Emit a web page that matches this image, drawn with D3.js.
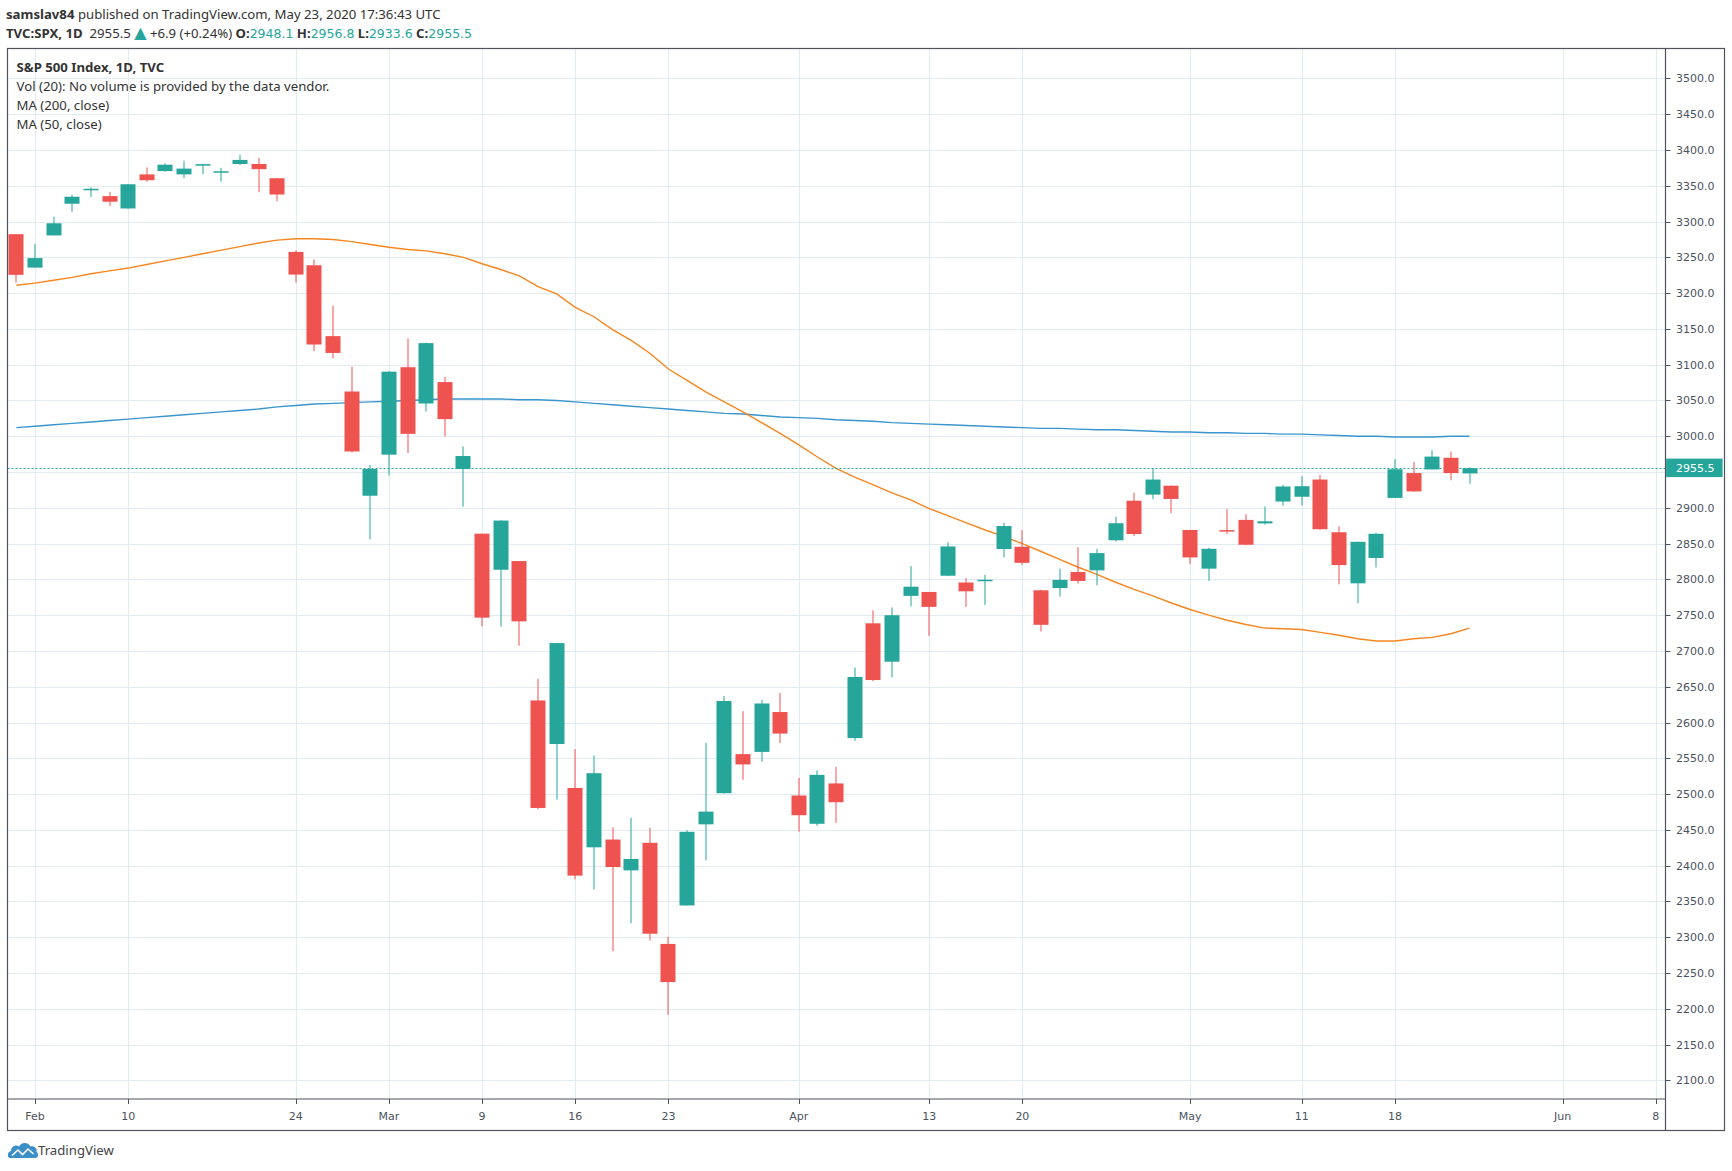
<!DOCTYPE html>
<html><head><meta charset="utf-8">
<script src="https://cdn.jsdelivr.net/npm/d3@7"></script>
<style>body{margin:0;background:#fff;} svg{display:block}</style>
</head><body><svg id="chart" width="1732" height="1171"></svg>
<script>
// ---------- DATA ----------
const dates = ["2020-01-31",
"2020-02-03","2020-02-04","2020-02-05","2020-02-06","2020-02-07",
"2020-02-10","2020-02-11","2020-02-12","2020-02-13","2020-02-14",
"2020-02-18","2020-02-19","2020-02-20","2020-02-21",
"2020-02-24","2020-02-25","2020-02-26","2020-02-27","2020-02-28",
"2020-03-02","2020-03-03","2020-03-04","2020-03-05","2020-03-06",
"2020-03-09","2020-03-10","2020-03-11","2020-03-12","2020-03-13",
"2020-03-16","2020-03-17","2020-03-18","2020-03-19","2020-03-20",
"2020-03-23","2020-03-24","2020-03-25","2020-03-26","2020-03-27",
"2020-03-30","2020-03-31","2020-04-01","2020-04-02","2020-04-03",
"2020-04-06","2020-04-07","2020-04-08","2020-04-09",
"2020-04-13","2020-04-14","2020-04-15","2020-04-16","2020-04-17",
"2020-04-20","2020-04-21","2020-04-22","2020-04-23","2020-04-24",
"2020-04-27","2020-04-28","2020-04-29","2020-04-30","2020-05-01",
"2020-05-04","2020-05-05","2020-05-06","2020-05-07","2020-05-08",
"2020-05-11","2020-05-12","2020-05-13","2020-05-14","2020-05-15",
"2020-05-18","2020-05-19","2020-05-20","2020-05-21","2020-05-22"];

const opens = [3282.33,
3235.66,3280.61,3324.91,3344.92,3335.54,
3318.28,3365.87,3370.50,3365.90,3378.08,
3369.04,3380.39,3380.45,3360.50,
3257.61,3238.94,3139.90,3062.54,2916.90,
2974.28,3096.46,3045.75,3075.70,2954.20,
2863.89,2813.48,2825.60,2630.86,2569.99,
2508.59,2425.66,2436.50,2393.48,2431.94,
2290.71,2344.44,2457.77,2501.29,2555.87,
2558.98,2614.69,2498.08,2458.54,2514.92,
2578.28,2738.65,2685.00,2776.99,
2782.46,2805.10,2795.64,2799.34,2842.43,
2845.62,2784.81,2787.89,2810.42,2812.64,
2854.65,2909.96,2918.46,2930.91,2869.09,
2815.01,2868.88,2883.14,2878.26,2908.83,
2915.46,2939.50,2865.86,2794.54,2829.95,
2913.86,2948.59,2953.63,2969.95,2948.05];

const highs = [3282.33,
3268.44,3306.92,3337.58,3347.96,3341.42,
3352.26,3375.63,3381.47,3385.09,3380.69,
3375.01,3393.52,3389.15,3360.76,
3259.81,3246.99,3182.51,3097.07,2959.72,
3090.96,3136.72,3130.97,3083.04,2985.93,
2863.89,2882.59,2825.60,2660.95,2711.33,
2562.98,2553.93,2453.57,2466.97,2453.01,
2300.73,2449.71,2571.42,2637.01,2615.91,
2631.80,2641.39,2522.75,2533.22,2538.18,
2676.85,2756.89,2760.75,2818.57,
2782.46,2851.85,2801.88,2806.51,2879.22,
2868.98,2785.54,2815.10,2844.90,2842.71,
2887.72,2921.15,2954.86,2930.91,2869.09,
2844.24,2898.23,2891.11,2901.92,2932.16,
2944.25,2945.82,2874.14,2852.80,2865.01,
2968.09,2964.21,2980.29,2978.50,2956.76];

const lows = [3214.68,
3235.66,3280.61,3313.75,3334.39,3322.12,
3317.77,3355.61,3369.72,3360.52,3366.15,
3355.61,3378.83,3341.02,3328.45,
3214.65,3118.77,3108.99,2977.39,2855.84,
2945.19,2976.63,3034.38,2999.83,2901.54,
2734.43,2734.00,2707.22,2478.86,2492.37,
2380.94,2367.04,2280.52,2319.78,2295.56,
2191.86,2344.44,2407.53,2500.72,2520.02,
2545.28,2571.15,2447.49,2455.79,2459.96,
2574.57,2657.67,2663.30,2762.36,
2721.17,2805.10,2761.54,2764.32,2830.88,
2820.43,2727.10,2775.95,2794.26,2791.76,
2852.89,2860.71,2912.16,2892.47,2821.61,
2797.85,2863.55,2847.65,2876.48,2902.88,
2903.44,2869.59,2793.15,2766.64,2816.78,
2913.86,2922.35,2953.63,2938.57,2933.59];

const closes = [3225.52,
3248.92,3297.59,3334.69,3345.78,3327.71,
3352.09,3357.75,3379.45,3373.94,3380.16,
3370.29,3386.15,3373.23,3337.75,
3225.89,3128.21,3116.39,2978.76,2954.22,
3090.23,3003.37,3130.12,3023.94,2972.37,
2746.56,2882.23,2741.38,2480.64,2711.02,
2386.13,2529.19,2398.10,2409.39,2304.92,
2237.40,2447.33,2475.56,2630.07,2541.47,
2626.65,2584.59,2470.50,2526.90,2488.65,
2663.68,2659.41,2749.98,2789.82,
2761.63,2846.06,2783.36,2799.55,2874.56,
2823.16,2736.56,2799.31,2797.80,2836.74,
2878.48,2863.39,2939.51,2912.43,2830.71,
2842.74,2868.44,2848.42,2881.19,2929.80,
2930.19,2870.12,2820.00,2852.50,2863.70,
2953.91,2922.94,2971.61,2948.51,2955.45];

const ma50 = [3211,
3214,3218,3222,3227,3231,
3235,3240,3245,3250,3255,
3260,3265,3270,3274,
3276,3276,3275,3272,3268,
3264,3261,3259,3255,3250,
3241,3233,3224,3209,3199,
3180,3167,3149,3134,3116,
3094,3078,3062,3048,3034,
3019,3004,2988,2971,2955,
2943,2932,2921,2911,
2899,2889,2879,2869,2860,
2850,2839,2828,2817,2807,
2796,2786,2777,2767,2758,
2750,2743,2737,2732,2731,
2730,2726,2722,2717,2714,
2714,2717,2719,2724,2732];

const ma200 = [3012,
3014,3016,3018,3020,3022,
3024,3026,3028,3030,3032,
3034,3036,3038,3041,
3043,3045,3046,3047,3048,
3049,3050,3051,3052,3052,
3052,3052,3051,3051,3050,
3048,3046,3044,3042,3040,
3038,3036,3034,3032,3031,
3029,3027,3026,3025,3023,
3022,3021,3019,3018,
3017,3016,3015,3014,3013,
3012,3011,3011,3010,3009,
3009,3008,3007,3006,3006,
3005,3005,3004,3004,3003,
3003,3002,3001,3000,3000,
2999,2999,2999,3000,3000];

const futureDates = ["2020-05-26","2020-05-27","2020-05-28","2020-05-29",
"2020-06-01","2020-06-02","2020-06-03","2020-06-04","2020-06-05","2020-06-08"];

const tickDates = ["2020-02-03","2020-02-10","2020-02-24","2020-03-02","2020-03-09",
"2020-03-16","2020-03-23","2020-04-01","2020-04-13","2020-04-20",
"2020-05-01","2020-05-11","2020-05-18","2020-06-01","2020-06-08"];
const tickLabels = ["Feb","10","24","Mar","9","16","23","Apr","13","20","May","11","18","Jun","8"];

const priceTicks = d3.range(2100, 3501, 50);
const lastPrice = 2955.5;

// ---------- LAYOUT ----------
const L = 7.5, T = 48.5, R = 1665.5, B = 1099, BR = 1724.5, BB = 1130.5;
const allDates = dates.concat(futureDates);
const idx = d => allDates.indexOf(d);

const x = d3.scaleLinear().domain([idx("2020-02-03"), idx("2020-06-08")]).range([35, 1655.8]);
const y = d3.scaleLinear().domain([2100, 3500]).range([1080.4, 78.4]);

const UP = "#26a69a", DOWN = "#ef5350", GRID = "#e1ecf2", AXIS = "#50535e", TXT = "#4c525e";
const fmt1 = v => (Math.round(v*10 + 1e-6)/10).toFixed(1);

const svg = d3.select("#chart");
svg.append("rect").attr("width",1732).attr("height",1171).attr("fill","#fff");

svg.append("defs").append("clipPath").attr("id","plotclip")
  .append("rect").attr("x",L).attr("y",T).attr("width",R-L).attr("height",B-T);

// grid
const grid = svg.append("g");
grid.selectAll(".hg").data(priceTicks).join("line")
  .attr("x1",L).attr("x2",R).attr("y1",d=>Math.round(y(d))+0.5).attr("y2",d=>Math.round(y(d))+0.5)
  .attr("stroke",GRID).attr("stroke-width",1);
grid.selectAll(".vg").data(tickDates).join("line")
  .attr("x1",d=>Math.round(x(idx(d)))+0.5).attr("x2",d=>Math.round(x(idx(d)))+0.5)
  .attr("y1",T).attr("y2",B)
  .attr("stroke",GRID).attr("stroke-width",1);

const plot = svg.append("g").attr("clip-path","url(#plotclip)");

// MA lines
const lineGen = arr => d3.line().x((d,i)=>x(i)).y(d=>y(d))(arr);
plot.append("path").attr("d",lineGen(ma200)).attr("fill","none")
  .attr("stroke","#3a95cc").attr("stroke-width",1.4);
plot.append("path").attr("d",lineGen(ma50)).attr("fill","none")
  .attr("stroke","#f7861f").attr("stroke-width",1.4);

// last price dotted line
plot.append("line").attr("x1",L).attr("x2",R)
  .attr("y1",Math.round(y(lastPrice))+0.5).attr("y2",Math.round(y(lastPrice))+0.5)
  .attr("stroke",UP).attr("stroke-width",1).attr("stroke-dasharray","2,2");

// candles
const step = x(2)-x(1);
const bw = Math.round(step*0.78);
const candles = plot.selectAll(".c").data(dates).join("g");
candles.append("rect")
  .attr("x",(d,i)=>Math.round(x(i))-0.5).attr("width",1)
  .attr("y",(d,i)=>y(highs[i])).attr("height",(d,i)=>Math.max(1,y(lows[i])-y(highs[i])))
  .attr("fill",(d,i)=>closes[i]>=opens[i]?UP:DOWN);
candles.append("rect")
  .attr("x",(d,i)=>Math.round(x(i))-bw/2)
  .attr("width",bw)
  .attr("y",(d,i)=>y(Math.max(opens[i],closes[i])))
  .attr("height",(d,i)=>Math.max(1.5,Math.abs(y(opens[i])-y(closes[i]))))
  .attr("fill",(d,i)=>closes[i]>=opens[i]?UP:DOWN);

// borders
const frame = svg.append("g").attr("stroke",AXIS).attr("stroke-width",1.2).attr("fill","none");
frame.append("rect").attr("x",L).attr("y",T).attr("width",BR-L).attr("height",BB-T);
frame.append("line").attr("x1",R).attr("x2",R).attr("y1",T).attr("y2",BB);
frame.append("line").attr("x1",L).attr("x2",R).attr("y1",B).attr("y2",B);

// price axis (labels colliding with the last-price label are hidden, as in the reference)
const shownTicks = priceTicks.filter(d => Math.abs(y(d)-y(lastPrice)) > 14);
const pa = svg.append("g");
pa.selectAll("line").data(shownTicks).join("line")
  .attr("x1",R).attr("x2",R+5).attr("y1",d=>Math.round(y(d))+0.5).attr("y2",d=>Math.round(y(d))+0.5)
  .attr("stroke",AXIS).attr("stroke-width",1);
pa.selectAll("text").data(shownTicks).join("text")
  .attr("x",R+10.5).attr("y",d=>y(d)).attr("dy","0.36em")
  .attr("font-family","DejaVu Sans, Verdana, sans-serif").attr("font-size",11)
  .attr("fill",TXT).text(d=>d3.format(".1f")(d));

// last price label
svg.append("rect").attr("x",R+0.6).attr("y",y(lastPrice)-9.5).attr("width",56.5).attr("height",18.5).attr("fill",UP);
svg.append("text").attr("x",R+10.5).attr("y",y(lastPrice)).attr("dy","0.36em")
  .attr("font-family","DejaVu Sans, Verdana, sans-serif").attr("font-size",11)
  .attr("fill","#fff").text(fmt1(lastPrice));

// time axis
const ta = svg.append("g");
ta.selectAll("line").data(tickDates).join("line")
  .attr("x1",d=>Math.round(x(idx(d)))+0.5).attr("x2",d=>Math.round(x(idx(d)))+0.5)
  .attr("y1",B).attr("y2",B+5).attr("stroke",AXIS).attr("stroke-width",1);
ta.selectAll("text").data(tickLabels).join("text")
  .attr("x",(d,i)=>x(idx(tickDates[i]))).attr("y",1116).attr("dy","0.36em")
  .attr("text-anchor","middle")
  .attr("font-family","DejaVu Sans, Verdana, sans-serif").attr("font-size",11)
  .attr("fill",TXT).text(d=>d);

// header
const HF = "Noto Sans, Open Sans, sans-serif";
const NF = "DejaVu Sans, Verdana, sans-serif";
const h1 = svg.append("text").attr("x",6).attr("y",19).attr("font-family",HF).attr("font-size",13.2).attr("fill","#333");
h1.append("tspan").attr("font-weight","bold").text("samslav84");
h1.append("tspan").text(" published on TradingView.com, May 23, 2020 17:36:43 UTC");

const h2 = svg.append("text").attr("x",6).attr("y",38).attr("font-family",HF).attr("font-size",13.2).attr("fill","#333");
h2.append("tspan").attr("font-weight","bold").text("TVC:SPX, 1D");
h2.append("tspan").text("\u00a0 " + fmt1(closes[closes.length-1]) + " ");
h2.append("tspan").attr("fill",UP).attr("font-family",NF).attr("font-size",16).text("\u25B2");
h2.append("tspan").text(" +6.9 (+0.24%) ");
const ohlcLab = ["O:","H:","L:","C:"];
const ohlcVal = [opens[opens.length-1],highs[highs.length-1],lows[lows.length-1],closes[closes.length-1]];
ohlcLab.forEach((lab,i)=>{
  h2.append("tspan").attr("font-weight","bold").text(lab);
  h2.append("tspan").attr("fill",UP).attr("font-family",NF).attr("font-size",12.5).text(fmt1(ohlcVal[i]));
  if (i<3) h2.append("tspan").text(" ");
});

// legend
const legendLines = ["S&P 500 Index, 1D, TVC","Vol (20): No volume is provided by the data vendor.","MA (200, close)","MA (50, close)"];
const legendY = [72, 91, 109.5, 128.5];
svg.append("g").selectAll("text").data(legendLines).join("text")
  .attr("x",16.5).attr("y",(d,i)=>legendY[i])
  .attr("font-family",HF).attr("font-size",13.2)
  .attr("font-weight",(d,i)=>i===0?"bold":"normal")
  .attr("fill","#333").text(d=>d);

// logo
const logo = svg.append("g").attr("transform","translate(7,1141)");
logo.append("path")
  .attr("d","M3,17 C0,17 0,10.5 4,10 C4,5.5 9,3 12,5.5 C14,1 21,0.5 23.5,5.5 C27,4.5 30.5,7.5 29.5,11 C32,12 31.5,17 28.5,17 Z")
  .attr("fill","#3d8fc7");
logo.append("polyline").attr("points","5,14.5 11,9 15.5,13.5 21,8 26.5,13")
  .attr("fill","none").attr("stroke","#fff").attr("stroke-width",1.6);
svg.append("text").attr("x",38).attr("y",1155).attr("font-family",HF).attr("font-size",13.2)
  .attr("fill","#444").text("TradingView");
</script>
</body></html>
